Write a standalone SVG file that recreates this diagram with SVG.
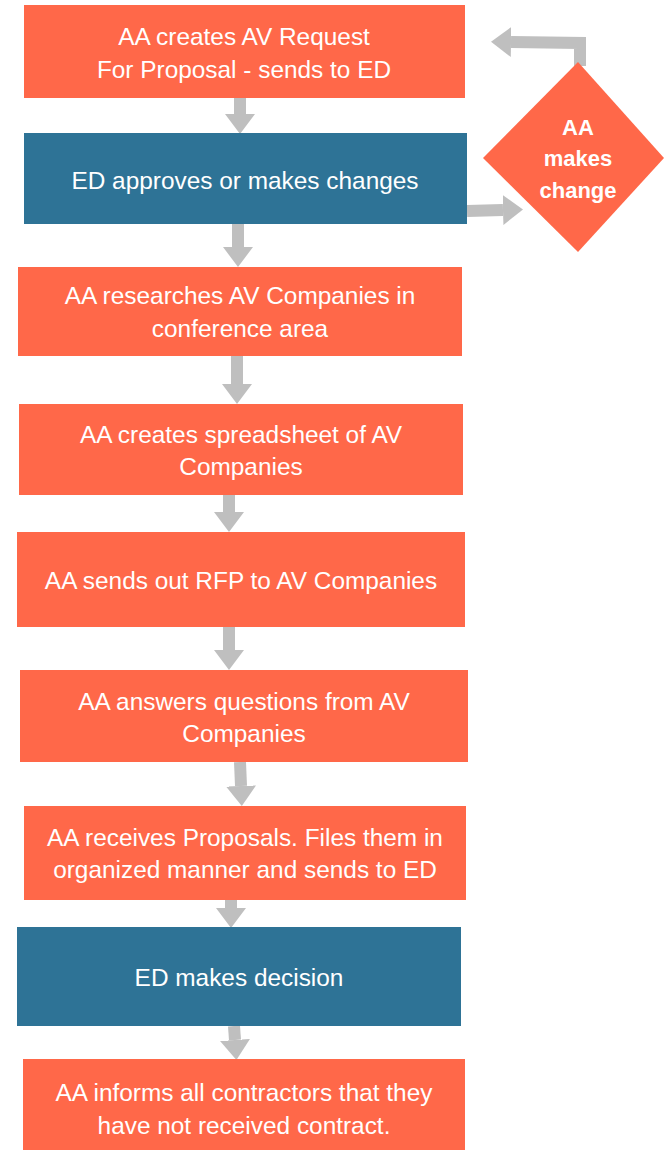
<svg xmlns="http://www.w3.org/2000/svg" width="664" height="1152" viewBox="0 0 664 1152">
<defs>
<style>
.o{fill:#FF6849}
.b{fill:#2E7396}
.t{font-family:"Liberation Sans",Arial,sans-serif;font-size:24.4px;fill:#FFFFFF;text-anchor:middle}
.d{font-family:"Liberation Sans",Arial,sans-serif;font-size:22px;font-weight:bold;fill:#FFFFFF;text-anchor:middle}
.c{stroke:#BFBFBF;stroke-width:12;fill:none}
</style>
<marker id="ah" markerUnits="userSpaceOnUse" markerWidth="22" markerHeight="32" refX="0" refY="16" orient="auto">
<path d="M0,1 L20,16 L0,31 Z" fill="#BFBFBF"/>
</marker>
</defs>
<g id="connectors">
<line class="c" x1="240" y1="98" x2="240" y2="114" marker-end="url(#ah)"/>
<line class="c" x1="238" y1="224" x2="238" y2="247" marker-end="url(#ah)"/>
<line class="c" x1="237" y1="356" x2="237" y2="384" marker-end="url(#ah)"/>
<line class="c" x1="229" y1="495" x2="229" y2="512" marker-end="url(#ah)"/>
<line class="c" x1="229" y1="627" x2="229" y2="650" marker-end="url(#ah)"/>
<line class="c" x1="240" y1="762" x2="241" y2="786" marker-end="url(#ah)"/>
<line class="c" x1="231" y1="900" x2="231" y2="908" marker-end="url(#ah)"/>
<line class="c" x1="234" y1="1026" x2="235" y2="1040" marker-end="url(#ah)"/>
<polyline class="c" points="467,211 503,210" marker-end="url(#ah)"/>
<polyline class="c" points="580,66 580,43 511,42" marker-end="url(#ah)"/>
</g>
<g id="n1"><rect class="o" x="24" y="5" width="441" height="93"/><text class="t" x="244" y="45">AA creates AV Request</text><text class="t" x="244" y="78">For Proposal - sends to ED</text></g>
<g id="n2"><rect class="b" x="24" y="133" width="443" height="91"/><text class="t" x="245" y="189">ED approves or makes changes</text></g>
<g id="n3"><rect class="o" x="18" y="267" width="444" height="89"/><text class="t" x="240" y="304">AA researches AV Companies in</text><text class="t" x="240" y="337">conference area</text></g>
<g id="n4"><rect class="o" x="19" y="404" width="444" height="91"/><text class="t" x="241" y="443">AA creates spreadsheet of AV</text><text class="t" x="241" y="475">Companies</text></g>
<g id="n5"><rect class="o" x="17" y="532" width="448" height="95"/><text class="t" x="241" y="589">AA sends out RFP to AV Companies</text></g>
<g id="n6"><rect class="o" x="20" y="670" width="448" height="92"/><text class="t" x="244" y="710">AA answers questions from AV</text><text class="t" x="244" y="742">Companies</text></g>
<g id="n7"><rect class="o" x="24" y="806" width="442" height="94"/><text class="t" x="245" y="846">AA receives Proposals. Files them in</text><text class="t" x="245" y="878">organized manner and sends to ED</text></g>
<g id="n8"><rect class="b" x="17" y="927" width="444" height="99"/><text class="t" x="239" y="986">ED makes decision</text></g>
<g id="n9"><rect class="o" x="23" y="1059" width="442" height="91"/><text class="t" x="244" y="1101">AA informs all contractors that they</text><text class="t" x="244" y="1134">have not received contract.</text></g>
<g id="n10"><polygon class="o" points="578,62 664,158 578,252 483,158"/><text class="d" x="578" y="135">AA</text><text class="d" x="578" y="166">makes</text><text class="d" x="578" y="198">change</text></g>
</svg>
